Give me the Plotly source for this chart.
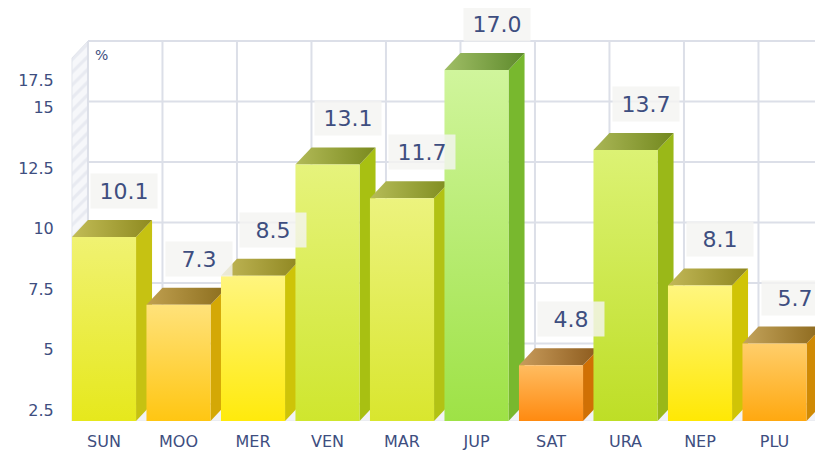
import plotly.graph_objects as go

# ---------------- data ----------------
categories = ["SUN", "MOO", "MER", "VEN", "MAR", "JUP", "SAT", "URA", "NEP", "PLU"]
values = [10.1, 7.3, 8.5, 13.1, 11.7, 17.0, 4.8, 13.7, 8.1, 5.7]
value_labels = ["10.1", "7.3", "8.5", "13.1", "11.7", "17.0", "4.8", "13.7", "8.1", "5.7"]
y_ticks = [2.5, 5, 7.5, 10, 12.5, 15, 17.5]
y_tick_labels = ["2.5", "5", "7.5", "10", "12.5", "15", "17.5"]
unit_label = "%"

# ---------------- styles ----------------
front_light = ["#F0F272", "#FFE27A", "#FFF57E", "#E6F37C", "#ECF37E", "#D0F59C", "#FFBC60", "#DCF274", "#FFF67E", "#FFCE6A"]
front_dark = ["#E6E81C", "#FFC612", "#FFEA0C", "#CFE62E", "#D9E62E", "#9EE246", "#FF8A10", "#BEDE26", "#FFE804", "#FFA810"]
side_col = ["#C6C212", "#D4A806", "#CEC408", "#A8C012", "#B2C214", "#78B82E", "#D07004", "#9AB818", "#D0C406", "#D08A04"]
top_light = ["#C2BC56", "#C0A050", "#C2B858", "#B2BA58", "#B6BC58", "#A0BE66", "#C89C5C", "#AAB656", "#C2B858", "#C4A45C"]
top_dark = ["#8E8A20", "#8C6E1E", "#8E8620", "#7A8A1E", "#7E8C1E", "#5E8A2C", "#8C5A1C", "#72881E", "#8E8620", "#8C681C"]

TEXT_COLOR = "#3E4E80"
GRID_COLOR = "#DCDFE8"
FONT = "DejaVu Sans"

# ---------------- geometry ----------------
# the page body has an 8px margin, so the figure is drawn 8px smaller
PAGE_W, PAGE_H, BODY = 823, 451, 8
W, H = PAGE_W - BODY, PAGE_H - BODY
M_L, M_B = 52, 30
PX_PER_CAT = 74.5
PX_PER_UNIT = 24.2
FIRST_CENTER_PX = 96
BASE = y_ticks[0]
HW = 0.43                      # half bar width (category units)
DX = 16 / PX_PER_CAT           # depth offset in x units
DY = 17 / PX_PER_UNIT          # depth offset in value units

X_MIN = (M_L - FIRST_CENTER_PX) / PX_PER_CAT
X_MAX = X_MIN + (W - M_L) / PX_PER_CAT
Y_MIN = BASE
Y_MAX = BASE + (H - M_B) / PX_PER_UNIT

fig = go.Figure()


def polygon(xs, ys, **kw):
    fig.add_trace(go.Scatter(
        x=list(xs) + [xs[0]], y=list(ys) + [ys[0]], mode="lines",
        fill="toself", hoverinfo="skip", showlegend=False, **kw))


# floor
x_left = -HW
polygon([x_left, X_MAX + 1, X_MAX + 1 + DX, x_left + DX],
        [BASE, BASE, BASE + DY, BASE + DY],
        fillcolor="#F2F3F7", line=dict(color="#E4E6ED", width=1))

# left wall with hatch
top_v = y_ticks[-1]
polygon([x_left, x_left, x_left + DX, x_left + DX],
        [BASE, top_v, top_v + DY, BASE + DY],
        fillcolor="#F3F4F8",
        fillpattern=dict(shape="/", fgcolor="#D9DDE7", bgcolor="#F6F7FA", size=9, solidity=0.35),
        line=dict(color="#E2E5EC", width=1))

# back wall grid
gx, gy = [], []
for t in y_ticks:
    gx += [x_left + DX, X_MAX + 1, None]
    gy += [t + DY, t + DY, None]
for i in range(len(categories) + 1):
    xv = i + x_left + DX
    gx += [xv, xv, None]
    gy += [BASE + DY, top_v + DY, None]
fig.add_trace(go.Scatter(x=gx, y=gy, mode="lines", line=dict(color=GRID_COLOR, width=2),
                         hoverinfo="skip", showlegend=False))

# bars
for i, v in enumerate(values):
    l, r = i - HW, i + HW
    # side face
    polygon([r, r + DX, r + DX, r], [BASE, BASE + DY, v + DY, v],
            fillcolor=side_col[i], line=dict(width=0))
    # top face
    polygon([l, r, r + DX, l + DX], [v, v, v + DY, v + DY],
            fillgradient=dict(type="horizontal",
                              colorscale=[[0, top_light[i]], [1, top_dark[i]]]),
            line=dict(width=0))
    # front face
    polygon([l, r, r, l], [BASE, BASE, v, v],
            fillgradient=dict(type="vertical",
                              colorscale=[[0, front_dark[i]], [1, front_light[i]]]),
            line=dict(width=0))

# value labels
LABEL_DX = 20 / PX_PER_CAT
LABEL_DY = 46 / PX_PER_UNIT
for i, v in enumerate(values):
    fig.add_annotation(x=i + LABEL_DX, y=v + LABEL_DY, text=value_labels[i],
                       showarrow=False, xref="x", yref="y",
                       font=dict(family=FONT, size=22, color=TEXT_COLOR),
                       bgcolor="rgba(244,244,242,0.82)", width=62, height=30, borderpad=2)

# unit label
fig.add_annotation(x=x_left + DX + 5 / PX_PER_CAT, y=top_v + DY - 4 / PX_PER_UNIT,
                   text=unit_label, showarrow=False, xanchor="left", yanchor="top",
                   font=dict(family=FONT, size=14, color=TEXT_COLOR))

# y tick label positions (mid-depth of the wall; top label sits lower)
TICK_SHIFT = 11 / PX_PER_UNIT
tick_pos = [t + TICK_SHIFT for t in y_ticks]
tick_pos[-1] = y_ticks[-1] - 22 / PX_PER_UNIT

fig.update_layout(
    width=W, height=H,
    margin=dict(l=M_L, r=0, t=0, b=M_B),
    paper_bgcolor="white", plot_bgcolor="white",
    font=dict(family=FONT, color=TEXT_COLOR),
    xaxis=dict(range=[X_MIN, X_MAX], tickvals=list(range(len(categories))), ticktext=categories,
               showgrid=False, zeroline=False, showline=False, ticks="outside", ticklen=6,
               tickcolor="rgba(0,0,0,0)", tickfont=dict(size=16, color=TEXT_COLOR), fixedrange=True),
    yaxis=dict(range=[Y_MIN, Y_MAX], tickvals=tick_pos, ticktext=y_tick_labels,
               showgrid=False, zeroline=False, showline=False, ticks="outside", ticklen=2,
               tickcolor="rgba(0,0,0,0)", tickfont=dict(size=16, color=TEXT_COLOR), fixedrange=True),
    showlegend=False,
)

fig.write_html("out.html")
